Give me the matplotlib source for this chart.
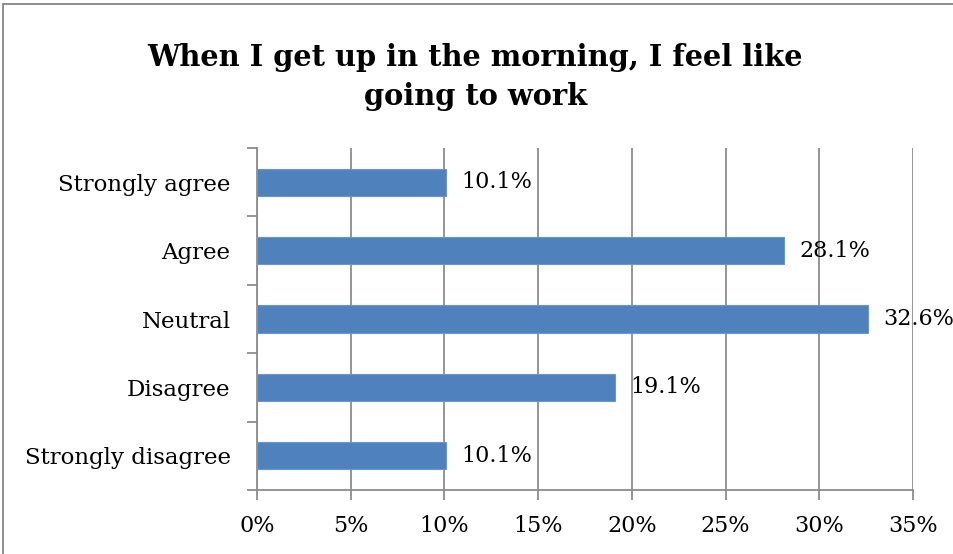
import matplotlib
matplotlib.use('Agg')
import matplotlib.pyplot as plt
from matplotlib.patches import Rectangle

categories = ['Strongly agree', 'Agree', 'Neutral', 'Disagree', 'Strongly disagree']
shares = [10.1, 28.1, 32.6, 19.1, 10.1]
xticks = [0, 5, 10, 15, 20, 25, 30, 35]

SERIF = ['DejaVu Serif']
GRID = '#8c8c8c'
BAR = '#4f81bd'

fig = plt.figure(figsize=(9.54, 5.54), dpi=100)
ax = fig.add_axes([257/954, 1 - 490/554, (913 - 257)/954, (490 - 148)/554])

# chart frame (only left and top edges fall inside the canvas)
fig.patches.append(Rectangle((3/954, -0.1), 1.2, 1 - 4/554 + 0.1, transform=fig.transFigure,
                             fill=False, edgecolor='#868686', linewidth=1.3))

ypos = list(range(len(categories)))
ax.barh(ypos, shares, height=0.4, color=BAR, edgecolor='#6a96cc', linewidth=0.8, zorder=3)
for y, v in zip(ypos, shares):
    ax.annotate(f'{v:.1f}%', (v, y), xytext=(11, 0), textcoords='offset points',
                va='center', ha='left', fontsize=16, family=SERIF, zorder=4)

ax.set_xlim(0, 35)
ax.set_ylim(len(categories) - 0.5, -0.5)
ax.set_xticks(xticks)
ax.set_xticklabels([f'{t}%' for t in xticks], fontsize=16, family=SERIF)
ax.set_yticks(ypos)
ax.set_yticklabels(categories, fontsize=16.5, family=SERIF)
ax.tick_params(axis='y', length=0, pad=19)
ax.set_yticks([i - 0.5 for i in range(len(categories) + 1)], minor=True)
ax.tick_params(axis='y', which='minor', length=7, width=1.3, color=GRID)
ax.tick_params(axis='x', length=7, width=1.3, color=GRID, pad=11)
ax.xaxis.grid(True, color=GRID, linewidth=1.3, zorder=0)
for s in ['top', 'right']:
    ax.spines[s].set_visible(False)
for s in ['left', 'bottom']:
    ax.spines[s].set_color(GRID)
    ax.spines[s].set_linewidth(1.3)

fig.text(0.498, 1 - 77/554, 'When I get up in the morning, I feel like\ngoing to work',
         ha='center', va='center', fontsize=20.8, fontweight='bold', family=SERIF,
         linespacing=1.45)

fig.savefig('out.png', dpi=100)
